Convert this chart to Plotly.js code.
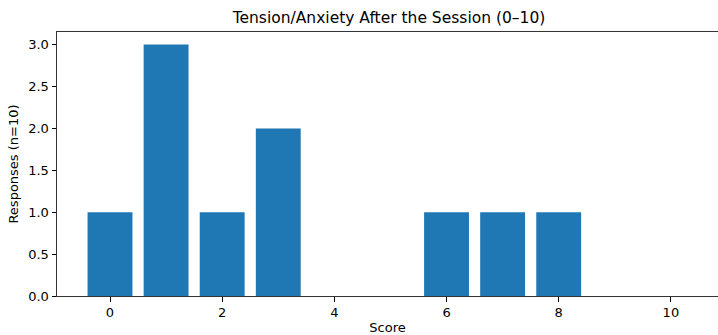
<!DOCTYPE html>
<html>
<head>
<meta charset="utf-8">
<script src="https://cdn.plot.ly/plotly-3.0.1.min.js"></script>
<style>html,body{margin:0;padding:0;background:#fff;}#chart{width:718px;height:335px;}</style>
</head>
<body>
<div id="chart"></div>
<script>
const scores = [0, 1, 2, 3, 4, 5, 6, 7, 8, 9, 10];
const responses = [1, 3, 1, 2, 0, 0, 1, 1, 1, 0, 0];
const xTicks = [0, 2, 4, 6, 8, 10];
const yTicks = [0, 0.5, 1, 1.5, 2, 2.5, 3];
const chartTitle = "Tension/Anxiety After the Session (0–10)";
const xLabel = "Score";
const yLabel = "Responses (n=10)";

const font = "DejaVu Sans, sans-serif";
const trace = {
  type: "bar",
  x: scores,
  y: responses,
  width: 0.8,
  marker: {color: "#1f77b4", line: {width: 0}},
  hoverinfo: "skip"
};
const layout = {
  width: 718,
  height: 335,
  margin: {l: 57, r: 0, t: 32, b: 39, pad: 0},
  paper_bgcolor: "#fff",
  plot_bgcolor: "#fff",
  showlegend: false,
  font: {family: font, size: 13, color: "#000"},
  title: {
    text: chartTitle,
    font: {family: font, size: 15.5, color: "#000"},
    x: 389 / 718, xref: "container", xanchor: "center",
    y: 1 - 18 / 335, yref: "container", yanchor: "middle"
  },
  xaxis: {
    range: [-0.945, 10.84],
    tickvals: xTicks,
    ticktext: xTicks.map(String),
    ticks: "outside", ticklen: 4.5, tickwidth: 1, tickcolor: "#000",
    showline: true, linecolor: "#333", linewidth: 1, mirror: true,
    showgrid: false, zeroline: false,
    tickfont: {family: font, size: 13, color: "#000"},
    title: {text: xLabel, font: {family: font, size: 13, color: "#000"}, standoff: 5}
  },
  yaxis: {
    range: [0, 3.15],
    tickvals: yTicks,
    ticktext: yTicks.map(v => v.toFixed(1)),
    ticks: "outside", ticklen: 4.5, tickwidth: 1, tickcolor: "#000",
    showline: true, linecolor: "#333", linewidth: 1, mirror: false,
    showgrid: false, zeroline: false,
    tickfont: {family: font, size: 13, color: "#000"},
    title: {text: yLabel, font: {family: font, size: 13, color: "#000"}, standoff: 6}
  }
};
Plotly.newPlot("chart", [trace], layout, {displayModeBar: false, staticPlot: true});
</script>
</body>
</html>
